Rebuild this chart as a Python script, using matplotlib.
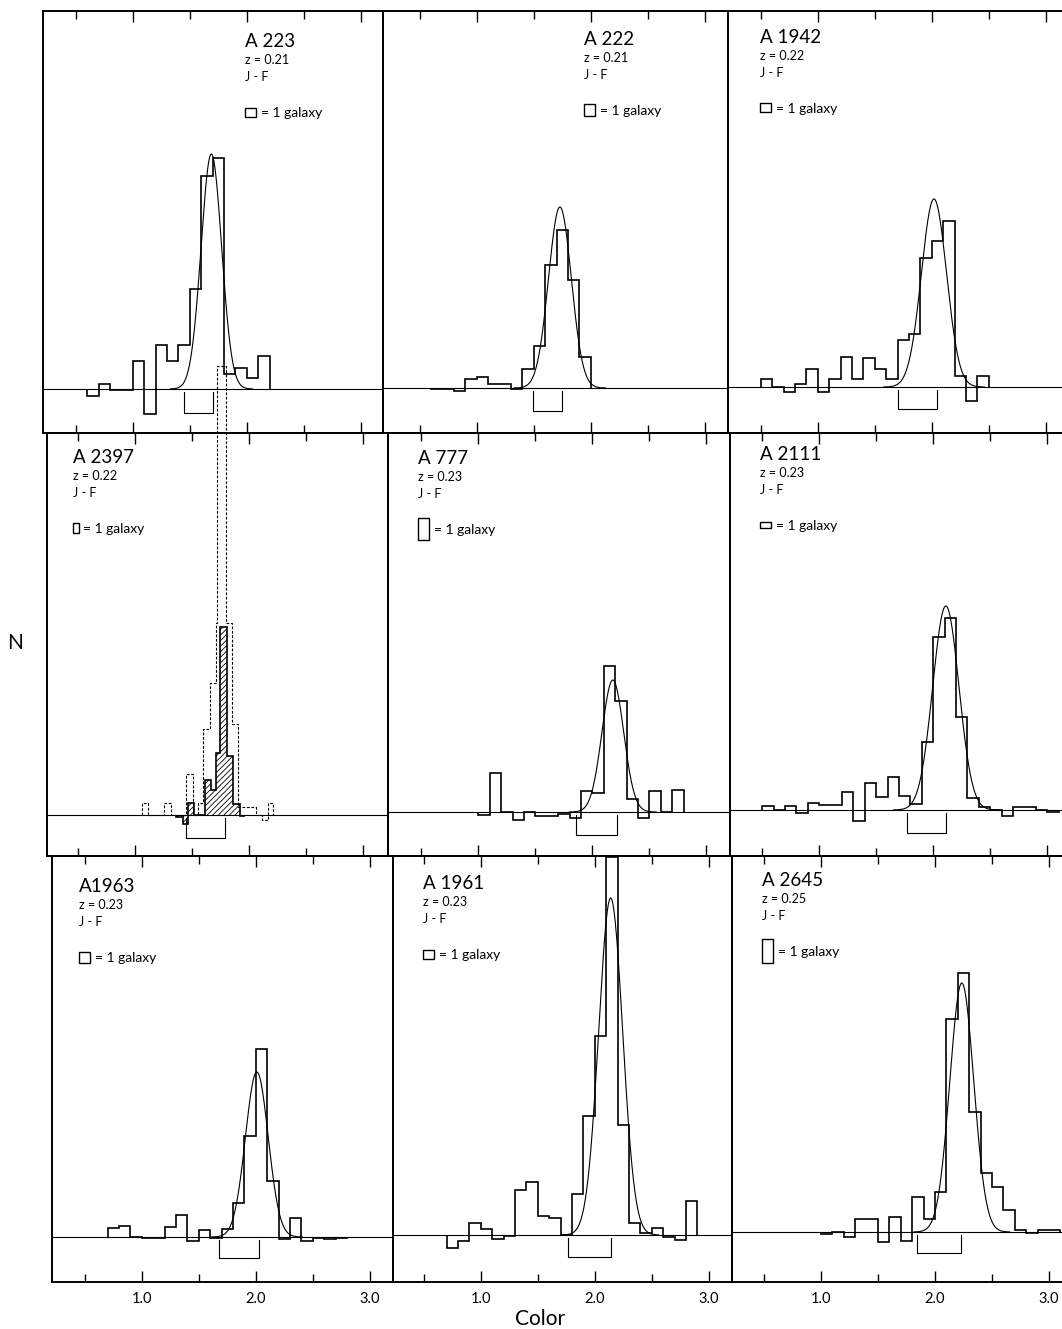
import numpy as np
import matplotlib.pyplot as plt
from matplotlib.patches import Rectangle

plt.rcParams['font.family'] = ['Lato', 'DejaVu Sans']
plt.rcParams['hatch.linewidth'] = 0.6

W, H = 1062, 1329

# ---- data (N in relative units, colour J-F) ----
names = ['A 223', 'A 222', 'A 1942', 'A 2397', 'A 777', 'A 2111', 'A1963', 'A 1961', 'A 2645']
redshift = ['0.21', '0.21', '0.22', '0.22', '0.23', '0.23', '0.23', '0.23', '0.25']

a223_start, a223 = 0.6, [-0.73, 0.5, -0.07, -0.07, 2.83, -2.5, 4.37, 2.77, 4.37, 10.0,
                         21.3, 23.1, 1.5, 2.1, 1.1, 3.33]
a222_start, a222 = 0.6, [-0.1, -0.1, -0.33, 0.9, 1.1, 0.4, 0.4, -0.05, 1.9, 4.2,
                         12.3, 15.8, 10.8, 3.1]
a1942_start, a1942 = 0.5, [0.8, 0, -0.5, 0.33, 1.8, -0.53, 0.8, 3.0, 0.8, 2.9, 1.83, 0.8,
                           4.73, 5.3, 12.9, 14.6, 16.6, 1.13, -1.43, 1.13]
a777_start, a777 = 1.0, [-0.27, 3.9, 0, -0.77, 0, -0.45, -0.45, -0.2, -0.6, 2.07, 1.9,
                         14.6, 11.1, 1.3, -0.6, 2.07, 0, 2.23]
a2111_start, a2111 = 0.5, [0.4, 0, 0.43, -0.27, 0.73, 0.5, 0.5, 1.77, -1.1, 2.73, 1.27,
                           3.33, 1.4, 0.6, 6.77, 17.3, 19.2, 9.33, 1.17, 0.27, 0, -0.57,
                           0.33, 0.33, 0, -0.17]
a1963_start, a1963 = 0.7, [0.93, 1.13, 0, -0.07, -0.07, 1.0, 2.17, -0.4, 0.73, -0.07,
                           0.83, 3.43, 10.1, 18.8, 5.57, -0.23, 1.9, -0.4, -0.07, -0.17,
                           -0.07]
a1961_start, a1961 = 0.7, [-1.33, -0.57, 1.17, 0.6, -0.43, -0.07, 4.5, 5.27, 1.9, 1.73, 0,
                           4.07, 11.9, 19.9, 37.8, 11.0, 1.17, 0.17, 0.73, -0.23, -0.5,
                           3.43]
a2645_start, a2645 = 1.0, [-0.17, 0, -0.5, 1.27, 1.27, -1.0, 1.5, -0.93, 3.5, 1.27, 4.0,
                           21.3, 25.9, 12.0, 5.9, 4.5, 2.17, 0.23, -0.1, 0.23, 0.23]

# A2397: fine bins, hatched sample and dashed full sample
a2397_edges = [1.36, 1.42, 1.47, 1.52, 1.62, 1.665, 1.715, 1.745, 1.81, 1.86, 1.92, 1.96]
a2397 = [-0.15, -0.9, 1.2, 0, 3.5, 2.5, 6.2, 18.8, 5.9, 1.1, -0.1]
a2397_all_edges = [1.06, 1.12, 1.255, 1.315, 1.45, 1.51, 1.555, 1.60, 1.657, 1.715, 1.725,
                   1.80, 1.855, 1.91, 2.06, 2.12, 2.17, 2.215]
a2397_all = [1.2, 0, 1.2, 0, 4.1, 0, 1.2, 8.6, 13.2, 19.2, 44.9, 19.2, 9.1, 0.77, 0,
             -0.5, 1.2]

bin_width = [0.1, 0.1, 0.1, 0.05, 0.1, 0.1, 0.1, 0.1, 0.1]
galaxy_height = [0.9, 1.1, 0.9, 1.0, 2.2, 0.6, 1.1, 0.9, 2.4]

# gaussian fits (centre, peak, sigma); A2397 has none
fit_centre = [1.69, 1.73, 2.02, np.nan, 2.18, 2.11, 2.01, 2.14, 2.235]
fit_peak = [23.5, 18.1, 18.8, np.nan, 13.2, 20.4, 16.5, 33.7, 24.9]
fit_sigma = [0.09, 0.10, 0.11, np.nan, 0.095, 0.115, 0.10, 0.105, 0.105]

# colour range brackets under the baseline
br_lo = [1.45, 1.49, 1.70, 1.45, 1.86, 1.77, 1.68, 1.77, 1.84]
br_hi = [1.70, 1.75, 2.05, 1.79, 2.22, 2.11, 2.03, 2.14, 2.23]
br_depth = [2.4, 2.33, 2.17, 2.33, 2.27, 2.27, 2.07, 2.17, 2.07]

hists = [(a223_start, a223), (a222_start, a222), (a1942_start, a1942), None,
         (a777_start, a777), (a2111_start, a2111), (a1963_start, a1963),
         (a1961_start, a1961), (a2645_start, a2645)]

# ---- layout (pixels) ----
row_top = [11, 433, 856]
row_bot = [433, 856, 1282]
col_left = [[43, 383, 728], [47, 388, 730], [52, 393, 732]]
one_px = [[132.7, 476.7, 817.7], [134.7, 478.3, 819.3], [141.7, 480.7, 821.0]]
base_px = [[389, 388, 387], [815, 812, 810], [1237, 1235, 1232]]
label_px = [(245, 47), (584, 45), (760, 43), (73, 463), (418, 464), (760, 460),
            (79, 892), (423, 889), (762, 886)]
ppu = 114.0

fig = plt.figure(figsize=(W / 100, H / 100), dpi=100)
fig.patch.set_facecolor('white')

axes = []
for r in range(3):
    for c in range(3):
        left = col_left[r][c]
        width = (col_left[r][c + 1] - left) if c < 2 else 342
        top, bot = row_top[r], row_bot[r]
        ax = fig.add_axes([left / W, 1 - bot / H, width / W, (bot - top) / H])
        ax.set_facecolor('none')
        ax.set_xlim(1 - (one_px[r][c] - left) / ppu, 1 + (left + width - one_px[r][c]) / ppu)
        y0 = -(bot - base_px[r][c]) / 10
        ax.set_ylim(y0, y0 + (bot - top) / 10)
        ax.set_xticks([1.0, 2.0, 3.0])
        ax.set_xticks([0.5, 1.5, 2.5], minor=True)
        ax.tick_params(axis='x', which='both', direction='in', top=True, bottom=True,
                       width=1.0, labelsize=10.5, pad=7)
        ax.tick_params(axis='x', which='major', length=8)
        ax.tick_params(axis='x', which='minor', length=6)
        ax.set_yticks([])
        if r < 2:
            ax.set_xticklabels([])
        else:
            ax.set_xticklabels(['1.0', '2.0', '3.0'])
        for s in ax.spines.values():
            s.set_linewidth(1.4)
        axes.append(ax)

for i, ax in enumerate(axes):
    ax.axhline(0, color='k', lw=0.8)

    if hists[i] is not None:
        start, counts = hists[i]
        edges = start + bin_width[i] * np.arange(len(counts) + 1)
        ax.stairs(counts, edges, baseline=0, color='k', lw=1.2)
    else:
        ax.stairs(a2397_all, a2397_all_edges, baseline=0, color='k', lw=0.8,
                  ls=(0, (2.5, 1.5)), clip_on=False)
        ax.stairs(a2397, a2397_edges, baseline=0, fill=True, facecolor='none',
                  edgecolor='k', hatch='//////', lw=1.2)

    if not np.isnan(fit_centre[i]):
        xs = np.linspace(fit_centre[i] - 4 * fit_sigma[i], fit_centre[i] + 4 * fit_sigma[i], 300)
        ax.plot(xs, fit_peak[i] * np.exp(-0.5 * ((xs - fit_centre[i]) / fit_sigma[i]) ** 2),
                color='k', lw=0.8)

    ax.plot([br_lo[i], br_lo[i], br_hi[i], br_hi[i]],
            [-0.3, -br_depth[i], -br_depth[i], -0.3], color='k', lw=0.8)

    # cluster labels
    inv = ax.transData.inverted()
    tx, ty = label_px[i]
    x0, y0 = inv.transform((tx, H - ty))
    ax.text(x0, y0, names[i], fontsize=13.5, va='baseline', ha='left')
    _, y1 = inv.transform((tx, H - ty - 17))
    ax.text(x0, y1, 'z = ' + redshift[i], fontsize=9, va='baseline', ha='left')
    _, y2 = inv.transform((tx, H - ty - 34))
    ax.text(x0, y2, 'J - F', fontsize=9, va='baseline', ha='left')
    _, yc = inv.transform((tx, H - ty - 65))
    ax.add_patch(Rectangle((x0, yc - galaxy_height[i] / 2), bin_width[i], galaxy_height[i],
                           fill=False, ec='k', lw=1.0))
    _, y3 = inv.transform((tx, H - ty - 70))
    ax.text(x0 + bin_width[i] + 0.04, y3, '= 1 galaxy', fontsize=10, va='baseline', ha='left')

fig.text(540 / W, 1 - 1319 / H, 'Color', fontsize=15, ha='center', va='center')
fig.text(15 / W, 1 - 643 / H, 'N', fontsize=15, ha='center', va='center')

fig.savefig('out.png', dpi=100)
